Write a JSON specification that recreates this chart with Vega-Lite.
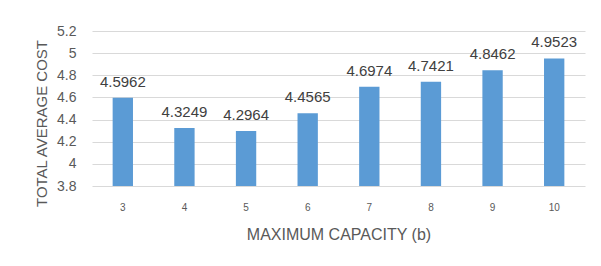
{
  "$schema": "https://vega.github.io/schema/vega-lite/v6.json",
  "width": 493,
  "height": 155,
  "autosize": {"type": "none"},
  "padding": {"left": 92, "top": 31, "right": 16, "bottom": 80},
  "background": "white",
  "config": {
    "view": {"stroke": null},
    "font": "Liberation Sans"
  },
  "data": {
    "values": [
      {"b": "3", "cost": 4.5962},
      {"b": "4", "cost": 4.3249},
      {"b": "5", "cost": 4.2964},
      {"b": "6", "cost": 4.4565},
      {"b": "7", "cost": 4.6974},
      {"b": "8", "cost": 4.7421},
      {"b": "9", "cost": 4.8462},
      {"b": "10", "cost": 4.9523}
    ]
  },
  "encoding": {
    "x": {
      "field": "b",
      "type": "ordinal",
      "sort": null,
      "scale": {"paddingInner": 0.67, "paddingOuter": 0.335},
      "axis": {
        "title": "MAXIMUM CAPACITY (b)",
        "labelAngle": 0,
        "labelFontSize": 10,
        "labelColor": "#595959",
        "labelPadding": 16,
        "ticks": false,
        "domain": false,
        "titleFontSize": 16,
        "titleFontWeight": "normal",
        "titleColor": "#595959",
        "titlePadding": 14
      }
    },
    "y": {
      "field": "cost",
      "type": "quantitative",
      "scale": {"domain": [3.8, 5.2], "nice": false, "zero": false},
      "axis": {
        "title": "TOTAL AVERAGE COST",
        "values": [3.8, 4, 4.2, 4.4, 4.6, 4.8, 5, 5.2],
        "format": ".1~f",
        "labelFontSize": 14,
        "labelColor": "#595959",
        "labelPadding": 16,
        "ticks": false,
        "domain": false,
        "gridColor": "#d9d9d9",
        "titleFontSize": 15,
        "titleFontWeight": "normal",
        "titleColor": "#595959",
        "titleAngle": -90,
        "titleAlign": "center",
        "titleBaseline": "alphabetic",
        "titleX": -46,
        "titleY": 92
      }
    }
  },
  "layer": [
    {"mark": {"type": "bar", "color": "#5B9BD5", "clip": true}},
    {
      "mark": {"type": "text", "dy": -11, "baseline": "alphabetic", "fontSize": 15, "color": "#404040"},
      "encoding": {"text": {"field": "cost", "type": "quantitative", "format": ".4f"}}
    }
  ]
}
